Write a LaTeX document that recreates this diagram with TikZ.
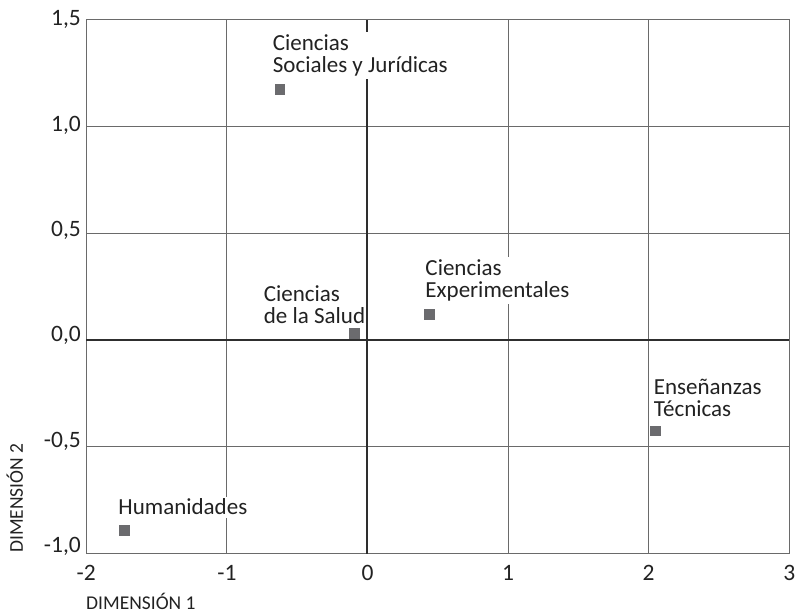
\documentclass[tikz,border=0pt]{standalone}
\usepackage{fontspec}
\setmainfont{Carlito}
\definecolor{gridgray}{HTML}{6A6A6A}
\definecolor{axisgray}{HTML}{2E2E2E}
\definecolor{ptgray}{HTML}{6B6B6E}
\definecolor{txtgray}{HTML}{222222}
\begin{document}
\begin{tikzpicture}[x=140.6pt,y=213.6pt,
  gridline/.style={draw=gridgray, line width=1pt},
  axisline/.style={draw=axisgray, line width=2pt},
  frameline/.style={draw=gridgray, line width=1.2pt},
  ptmark/.style={rectangle, fill=ptgray, minimum size=10.5pt, inner sep=0pt},
  lbl/.style={anchor=base west, fill=white, inner xsep=1pt, inner ysep=2.5pt, align=left,
    font=\fontsize{23}{22}\selectfont, text=txtgray},
  tick/.style={font=\fontsize{23.5}{23.5}\selectfont, text=txtgray, inner sep=0pt},
  axlbl/.style={font=\fontsize{19.5}{20}\selectfont, text=txtgray, inner sep=0pt, anchor=base west}
]
\useasboundingbox (-367.5pt,-273pt) rectangle (428.5pt,340pt);
% grid
\foreach \gx in {-1,1,2} \draw[gridline] (\gx,-1) -- (\gx,1.5);
\foreach \gy in {1.0,0.5,-0.5} \draw[gridline] (-2,\gy) -- (3,\gy);
\draw[frameline] (-2,-1) rectangle (3,1.5);
% axes
\draw[axisline] (0,-1) -- (0,1.5);
\draw[axisline] (-2,0) -- (3,0);
% labels (anchor at baseline of last line)
\node[lbl] (socL) at (-95.8pt,267.7pt) {Ciencias\\Sociales y Jurídicas};
\node[lbl] (salL) at (-104.8pt,16pt) {Ciencias\\de la Salud};
\node[lbl] (expL) at (56.8pt,42.7pt) {Ciencias\\Experimentales};
\node[lbl] (ensL) at (285.2pt,-76.7pt) {Enseñanzas\\Técnicas};
\node[lbl] (humL) at (-250.2pt,-175pt) {Humanidades};
% points
\node[ptmark] (soc) at (-0.624,1.172) {};
\node[ptmark] (sal) at (-0.091,0.0295) {};
\node[ptmark] (exp) at (0.442,0.120) {};
\node[ptmark] (ens) at (2.047,-0.427) {};
\node[ptmark] (hum) at (-1.727,-0.892) {};
% y ticks
\node[tick, anchor=base east] (y15) at (-286.5pt,314pt) {1,5};
\node[tick, anchor=base east] (y10) at (-286.5pt,208.7pt) {1,0};
\node[tick, anchor=base east] (y05) at (-286.5pt,103.4pt) {0,5};
\node[tick, anchor=base east] (y00) at (-286.5pt,-1.9pt) {0,0};
\node[tick, anchor=base east] (ym05) at (-286.5pt,-107.2pt) {-0,5};
\node[tick, anchor=base east] (ym10) at (-286.5pt,-212.5pt) {-1,0};
% x ticks
\node[tick, anchor=base] (xm2) at (-281.2pt,-240pt) {-2};
\node[tick, anchor=base] (xm1) at (-140.6pt,-240pt) {-1};
\node[tick, anchor=base] (x0) at (0pt,-240pt) {0};
\node[tick, anchor=base] (x1) at (140.6pt,-240pt) {1};
\node[tick, anchor=base] (x2) at (281.2pt,-240pt) {2};
\node[tick, anchor=base] (x3) at (421.8pt,-240pt) {3};
% axis titles
\node[axlbl] (dim1) at (-281.5pt,-269.3pt) {DIMENSIÓN 1};
\node[axlbl, rotate=90] (dim2) at (-344.5pt,-213pt) {DIMENSIÓN 2};
\end{tikzpicture}
\end{document}
